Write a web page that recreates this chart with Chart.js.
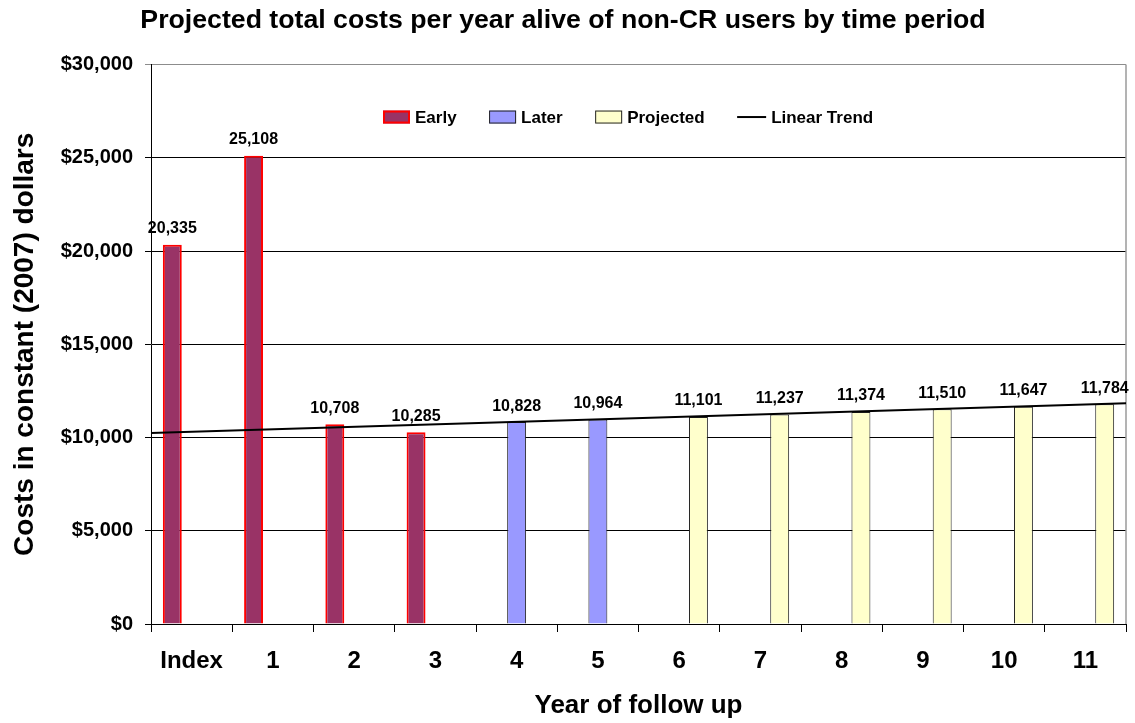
<!DOCTYPE html>
<html>
<head>
<meta charset="utf-8">
<title>Projected total costs per year alive of non-CR users by time period</title>
<script src="https://cdn.jsdelivr.net/npm/chart.js@4/dist/chart.umd.min.js"></script>
<style>
  html, body { margin: 0; padding: 0; background: #ffffff; }
  #wrap { width: 1135px; height: 723px; }
</style>
</head>
<body>
<div id="wrap"><canvas id="chart" width="1135" height="723"></canvas></div>
<script>
// Follow-up years
const years = ['Index', '1', '2', '3', '4', '5', '6', '7', '8', '9', '10', '11'];

// Costs per year alive (constant 2007 dollars), one array per period
const earlyCosts     = [20335, 25108, 10708, 10285, null, null, null, null, null, null, null, null];
const laterCosts     = [null, null, null, null, 10828, 10964, null, null, null, null, null, null];
const projectedCosts = [null, null, null, null, null, null, 11101, 11237, 11374, 11510, 11647, 11784];

// Linear trend value at the left and right edges of the plot
const trendEnds = [10240, 11835];

// Value axis ticks
const yTicks = [0, 5000, 10000, 15000, 20000, 25000, 30000];

const FONT = "'Liberation Sans', Arial, Helvetica, sans-serif";
const fmt = v => v.toLocaleString('en-US');

// Value labels above each bar
const barLabels = {
  id: 'barLabels',
  afterDatasetsDraw(chart) {
    const ctx = chart.ctx;
    ctx.save();
    ctx.font = 'bold 16px ' + FONT;
    ctx.fillStyle = '#000';
    ctx.textAlign = 'center';
    ctx.textBaseline = 'alphabetic';
    chart.data.datasets.forEach((ds, i) => {
      if (ds.type === 'line') return;
      const meta = chart.getDatasetMeta(i);
      meta.data.forEach((el, j) => {
        const v = ds.data[j];
        if (v === null || v === undefined) return;
        ctx.fillText(fmt(v), el.x, el.y - 11.5);
      });
    });
    ctx.restore();
  }
};

// Gray border on the right side of the plot area
const plotFrame = {
  id: 'plotFrame',
  beforeDatasetsDraw(chart) {
    const { ctx, chartArea: a } = chart;
    ctx.save();
    ctx.strokeStyle = '#9a9a9a';
    ctx.lineWidth = 1.5;
    ctx.beginPath();
    ctx.moveTo(a.right, a.top);
    ctx.lineTo(a.right, a.bottom);
    ctx.stroke();
    ctx.restore();
  }
};

// Legend row drawn inside the plot area
const innerLegend = {
  id: 'innerLegend',
  afterDraw(chart) {
    const { ctx, chartArea: a } = chart;
    ctx.save();
    ctx.font = 'bold 17px ' + FONT;
    ctx.textBaseline = 'middle';
    ctx.textAlign = 'left';
    const cy = a.top + 52.5;
    let x = a.left + 232;
    chart.data.datasets.forEach(ds => {
      const text = ds.label;
      if (ds.type === 'line') {
        ctx.strokeStyle = ds.borderColor;
        ctx.lineWidth = ds.borderWidth;
        ctx.beginPath();
        ctx.moveTo(x, cy);
        ctx.lineTo(x + 29, cy);
        ctx.stroke();
        x += 34;
      } else {
        const bw = ds.borderWidth;
        ctx.fillStyle = ds.backgroundColor;
        ctx.fillRect(x, cy - 6.5, 27, 13);
        ctx.strokeStyle = ds.borderColor;
        ctx.lineWidth = bw;
        ctx.strokeRect(x + bw / 2, cy - 6.5 + bw / 2, 27 - bw, 13 - bw);
        x += 32;
      }
      ctx.fillStyle = '#000';
      ctx.fillText(text, x, cy + 1);
      x += ctx.measureText(text).width + 32.5;
    });
    ctx.restore();
  }
};

new Chart(document.getElementById('chart'), {
  type: 'bar',
  data: {
    labels: years,
    datasets: [
      {
        label: 'Early',
        data: earlyCosts,
        backgroundColor: '#993366',
        borderColor: '#ff0000',
        borderWidth: 2
      },
      {
        label: 'Later',
        data: laterCosts,
        backgroundColor: '#9999ff',
        borderColor: '#222222',
        borderWidth: 1
      },
      {
        label: 'Projected',
        data: projectedCosts,
        backgroundColor: '#ffffcc',
        borderColor: '#222222',
        borderWidth: 1
      },
      {
        // Trend runs from the left edge to the right edge of the category axis
        type: 'line',
        label: 'Linear Trend',
        parsing: false,
        data: [
          { x: -0.5, y: trendEnds[0] },
          { x: years.length - 0.5, y: trendEnds[1] }
        ],
        borderColor: '#000000',
        borderWidth: 2,
        pointRadius: 0,
        tension: 0,
        order: -1
      }
    ]
  },
  options: {
    responsive: false,
    animation: false,
    layout: { padding: { right: 9, left: 0, top: 0, bottom: 0 } },
    datasets: {
      bar: { categoryPercentage: 0.713, barPercentage: 0.98 }
    },
    plugins: {
      legend: { display: false },
      tooltip: { enabled: false },
      title: {
        display: true,
        text: 'Projected total costs per year alive of non-CR users by time period',
        color: '#000',
        font: { family: FONT, size: 26.7, weight: 'bold', lineHeight: 1.2 },
        padding: { top: 4.5, bottom: 28 }
      }
    },
    scales: {
      x: {
        type: 'category',
        offset: true,
        bounds: 'ticks',
        grid: {
          offset: true,
          drawOnChartArea: false,
          drawTicks: true,
          tickLength: 8,
          tickColor: '#000'
        },
        border: { display: true, color: '#000', width: 1 },
        ticks: {
          color: '#000',
          padding: 15,
          maxRotation: 0,
          font: { family: FONT, size: 24, weight: 'bold', lineHeight: 1.2 }
        },
        title: {
          display: true,
          text: 'Year of follow up',
          color: '#000',
          font: { family: FONT, size: 26, weight: 'bold', lineHeight: 1.2 },
          padding: { top: 0, bottom: 2 }
        },
        afterFit(scale) { scale.height = 99; }
      },
      y: {
        type: 'linear',
        min: yTicks[0],
        max: yTicks[yTicks.length - 1],
        afterBuildTicks(scale) { scale.ticks = yTicks.map(v => ({ value: v })); },
        grid: {
          color: c => (c.tick && c.tick.value === 30000 ? '#8c8c8c' : '#000'),
          tickColor: c => (c.tick && c.tick.value === 30000 ? '#8c8c8c' : '#000'),
          lineWidth: 1,
          drawTicks: true,
          tickLength: 6
        },
        border: { display: true, color: '#000', width: 1 },
        ticks: {
          color: '#000',
          padding: 12,
          font: { family: FONT, size: 20, weight: 'bold', lineHeight: 1.2 },
          callback: v => '$' + fmt(v)
        },
        title: {
          display: true,
          text: 'Costs in constant (2007) dollars',
          color: '#000',
          font: { family: FONT, size: 28, weight: 'bold', lineHeight: 1.2 },
          padding: { top: 8, bottom: 0 }
        },
        afterFit(scale) { scale.width = 151; }
      }
    }
  },
  plugins: [plotFrame, barLabels, innerLegend]
});
</script>
</body>
</html>
